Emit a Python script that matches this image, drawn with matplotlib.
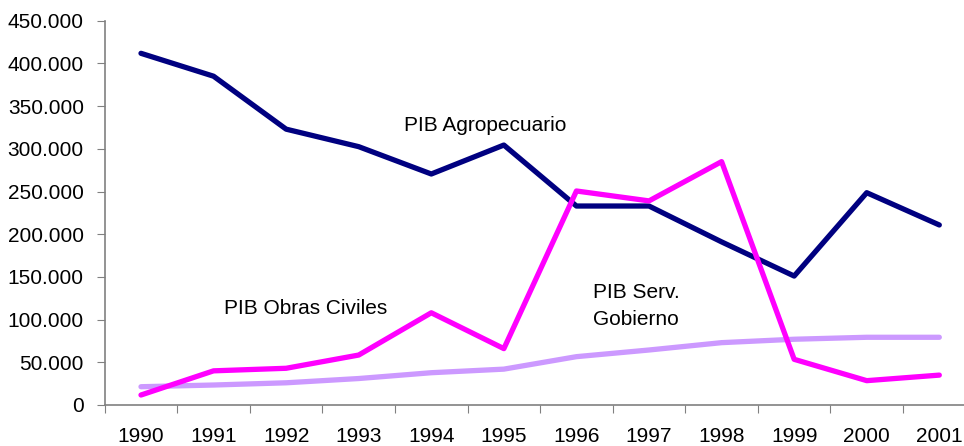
import numpy as np
import matplotlib
matplotlib.use("Agg")
from matplotlib import pyplot as plt
from matplotlib.ticker import FuncFormatter

years = ["1990", "1991", "1992", "1993", "1994", "1995",
         "1996", "1997", "1998", "1999", "2000", "2001"]
agropecuario = [411800, 385000, 323000, 302500, 270500, 304400,
                233000, 233000, 191000, 151000, 248600, 210800]
obras_civiles = [11700, 40000, 43000, 58500, 108000, 66000,
                 250600, 239000, 285000, 53500, 28500, 35000]
serv_gobierno = [21400, 23400, 26000, 31000, 37800, 42000,
                 56600, 64400, 73000, 77000, 79300, 79300]

plt.rcParams["font.family"] = ["Liberation Sans", "DejaVu Sans"]

W, H = 964, 446
fig = plt.figure(figsize=(W / 100, H / 100), dpi=100)
ax = fig.add_axes([104.7 / W, 41 / H, 870.9 / W, 384.3 / H])

x = np.arange(len(years))
lw = 3.8
ax.plot(x, agropecuario, color="#000080", lw=lw, solid_capstyle="round")
ax.plot(x, serv_gobierno, color="#CC99FF", lw=lw, solid_capstyle="round")
ax.plot(x, obras_civiles, color="#FF00FF", lw=lw, solid_capstyle="round")

ax.set_xlim(-0.5, len(years) - 0.5)
ax.set_ylim(0, 450000)
ax.set_yticks(np.arange(0, 450001, 50000))
ax.yaxis.set_major_formatter(FuncFormatter(
    lambda v, p: "0" if v == 0 else f"{int(v):,}".replace(",", ".")))

# category axis: ticks between the years, labels at the centres
ax.set_xticks(np.arange(-0.5, len(years), 1))
ax.set_xticklabels([])
ax.set_xticks(x, minor=True)
ax.set_xticklabels(years, minor=True)
ax.tick_params(axis="x", which="major", length=6, color="#808080", direction="out")
ax.tick_params(axis="x", which="minor", length=0, pad=16, labelsize=15)
ax.tick_params(axis="y", length=6, color="#808080", pad=9, labelsize=15)

for s in ["top", "right"]:
    ax.spines[s].set_visible(False)
for s in ["left", "bottom"]:
    ax.spines[s].set_color("#808080")
    ax.spines[s].set_linewidth(1.2)

ax.text(4.74, 327000, "PIB Agropecuario", fontsize=15, ha="center", va="center")
ax.text(2.27, 113000, "PIB Obras Civiles", fontsize=15, ha="center", va="center")
ax.text(6.82, 116000, "PIB Serv.\nGobierno", fontsize=15, ha="center", va="center",
        linespacing=1.5)

fig.savefig("out.png", dpi=100)
